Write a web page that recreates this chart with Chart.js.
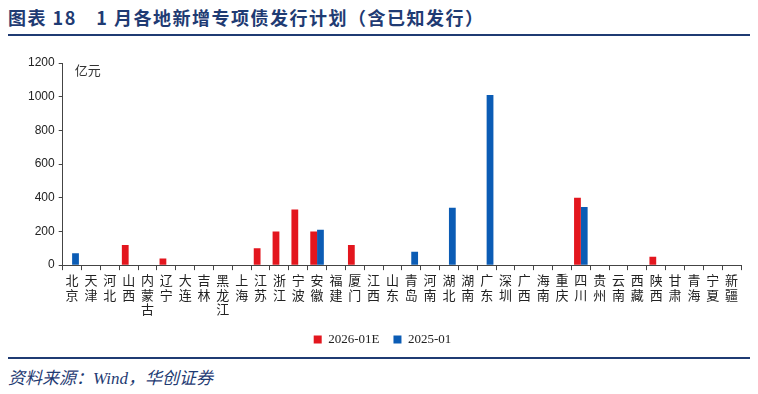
<!DOCTYPE html>
<html><head><meta charset="utf-8">
<script src="https://cdn.jsdelivr.net/npm/chart.js@4/dist/chart.umd.min.js"></script>
<style>
html,body{margin:0;padding:0;background:#fff;width:758px;height:394px;overflow:hidden;}
#title{position:absolute;left:8px;top:4px;font-family:"Noto Sans CJK SC";font-size:18px;font-weight:bold;color:#1F3B73;white-space:nowrap;letter-spacing:1.5px;}
#line1{position:absolute;left:8px;top:34px;width:742px;height:2px;background:#1F3B73;}
#line2{position:absolute;left:8px;top:357px;width:742px;height:2px;background:#1F3B73;}
#src{position:absolute;left:8px;top:364px;font-family:"Liberation Serif","Noto Sans CJK SC";font-style:italic;font-size:17px;color:#1F3B73;white-space:nowrap;}
#wrap{position:absolute;left:0;top:40px;width:758px;height:316px;}
</style></head><body>
<div id="title">图表 18　1 月各地新增专项债发行计划（含已知发行）</div>
<div id="line1"></div>
<div id="wrap"><canvas id="c"></canvas></div>
<div id="line2"></div>
<div id="src">资料来源：Wind，华创证券</div>
<script>
const categories = ["北京","天津","河北","山西","内蒙古","辽宁","大连","吉林","黑龙江","上海","江苏","浙江","宁波","安徽","福建","厦门","江西","山东","青岛","河南","湖北","湖南","广东","深圳","广西","海南","重庆","四川","贵州","云南","西藏","陕西","甘肃","青海","宁夏","新疆"];
const series2026E = [0,0,0,120,0,40,0,0,0,0,100,200,330,200,0,120,0,0,0,0,0,0,0,0,0,0,0,400,0,0,0,50,0,0,0,0];
const series2025 = [70,0,0,0,0,0,0,0,0,0,0,0,0,210,0,0,0,0,80,0,340,0,1010,0,0,0,0,345,0,0,0,0,0,0,0,0];
const yTicks = [0,200,400,600,800,1000,1200];

const unitPlugin = {
  id:'unit',
  afterDraw(chart){
    const ctx = chart.ctx, a = chart.chartArea;
    ctx.save();
    ctx.font = '13px "Noto Sans CJK SC"';
    ctx.fillStyle = '#333';
    ctx.textBaseline = 'middle';
    ctx.fillText('亿元', a.left + 12, a.top + 7);
    ctx.restore();
  }
};

new Chart(document.getElementById('c'), {
  type:'bar',
  data:{
    labels: categories.map(s => s.split('')),
    datasets:[
      {label:'2026-01E', data:series2026E, backgroundColor:'#E3161E', categoryPercentage:0.72, barPercentage:1.0},
      {label:'2025-01', data:series2025, backgroundColor:'#0B5CB5', categoryPercentage:0.72, barPercentage:1.0}
    ]
  },
  options:{
    responsive:true, maintainAspectRatio:false, animation:false,
    layout:{padding:{left:24,right:17,top:23,bottom:0}},
    plugins:{
      legend:{position:'bottom', labels:{boxWidth:8, boxHeight:8, padding:14, color:'#222', font:{family:'"Liberation Serif"', size:13}}},
      tooltip:{enabled:false}
    },
    scales:{
      x:{
        grid:{display:true, drawOnChartArea:false, drawTicks:true, tickLength:5, color:'#444', offset:true},
        border:{color:'#444', width:1},
        ticks:{autoSkip:false, maxRotation:0, minRotation:0, padding:2, color:'#222', font:{family:'"Noto Sans CJK SC"', size:13, lineHeight:1.15}}
      },
      y:{
        min:0, max:1200,
        afterBuildTicks(axis){ axis.ticks = yTicks.map(v => ({value:v})); },
        grid:{display:true, drawOnChartArea:false, tickLength:4, color:'#444'},
        border:{color:'#444', width:1},
        ticks:{padding:4, color:'#222', font:{family:'"Liberation Sans"', size:12}, callback:(v)=>String(v)}
      }
    }
  },
  plugins:[unitPlugin]
});
</script>
</body></html>
